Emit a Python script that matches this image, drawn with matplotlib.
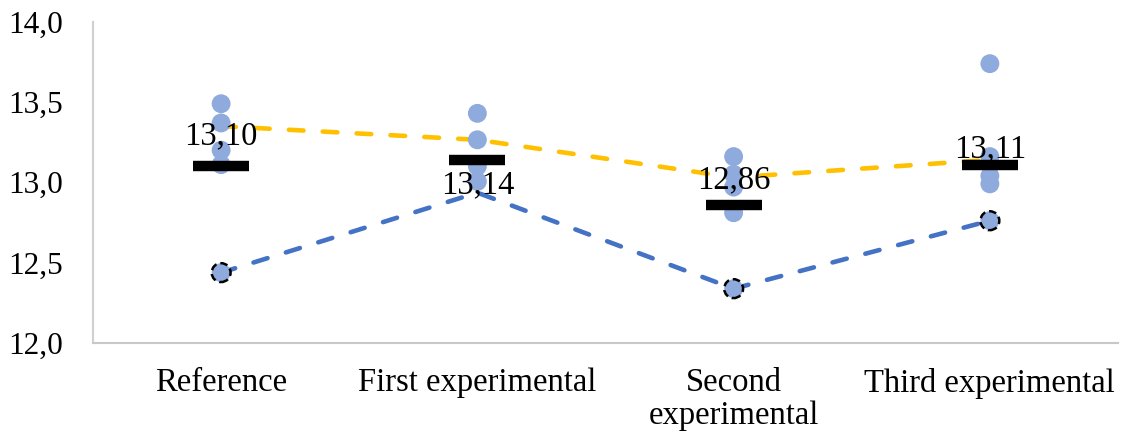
import matplotlib
matplotlib.use("Agg")
import matplotlib.pyplot as plt
from matplotlib.ticker import FuncFormatter

categories = ["Reference", "First experimental", "Second\nexperimental", "Third experimental"]
dots = [
    [13.49, 13.37, 13.20, 13.11],
    [13.43, 13.265, 13.10, 13.005],
    [13.16, 13.05, 12.97, 12.81],
    [13.74, 13.16, 13.04, 12.99],
]
means = [13.10, 13.14, 12.86, 13.11]
yellow_line = [13.35, 13.265, 13.03, 13.14]
blue_line = [12.436, 12.935, 12.336, 12.76]
blue_marker_idx = [0, 2, 3]
yticks = [12.0, 12.5, 13.0, 13.5, 14.0]

plt.rcParams['font.family'] = ['Liberation Serif', 'DejaVu Serif']

fig = plt.figure(figsize=(11.24, 4.36), dpi=100)
ax = fig.add_axes([93/1124, 1-342.5/436, (1118-93)/1124, (342.5-22)/436])

x = list(range(len(categories)))
dot_color = "#8FAADC"
fs = 23.5

ax.plot(x, yellow_line, color="#FFC000", lw=3.3, linestyle=(0, (3.2, 4.2)),
        dash_capstyle='round', zorder=1)
ax.plot(x, blue_line, color="#4472C4", lw=3.3, linestyle=(0, (3.2, 4.2)),
        dash_capstyle='round', zorder=1)

for i, vals in enumerate(dots):
    ax.scatter([i]*len(vals), vals, s=185, color=dot_color, edgecolors='none', zorder=2)

ax.scatter([x[i] for i in blue_marker_idx], [blue_line[i] for i in blue_marker_idx],
           s=185, facecolor=dot_color, edgecolors='black', linewidths=1.8,
           linestyle=(0, (3.0, 1.6)), zorder=3)

ax.plot(x, means, linestyle='none', marker='_', markersize=40, markeredgewidth=7.5,
        color='black', zorder=4)

label_offsets = [21.5, -18, 17.5, 11.5]
for i, m in enumerate(means):
    ax.annotate(f"{m:.2f}".replace('.', ','), (i, m), xytext=(0, label_offsets[i]),
                textcoords='offset points', ha='center', va='center',
                fontsize=fs, color='black', zorder=5)

ax.set_xlim(-0.5, 3.5)
ax.set_ylim(12.0, 14.0)
ax.set_yticks(yticks)
ax.yaxis.set_major_formatter(FuncFormatter(lambda v, p: f"{v:.1f}".replace('.', ',')))
ax.set_xticks(x)
ax.set_xticklabels(categories, linespacing=1.1)
ax.tick_params(axis='both', length=0)
ax.tick_params(axis='x', labelsize=fs, pad=18)
ax.tick_params(axis='y', labelsize=22.5, pad=21.5)

for s in ['top', 'right']:
    ax.spines[s].set_visible(False)
ax.spines['left'].set_color('#D0D0D0')
ax.spines['bottom'].set_color('#C8C8C8')
ax.spines['left'].set_linewidth(1.5)
ax.spines['bottom'].set_linewidth(1.5)

fig.savefig("out.png", dpi=100)
